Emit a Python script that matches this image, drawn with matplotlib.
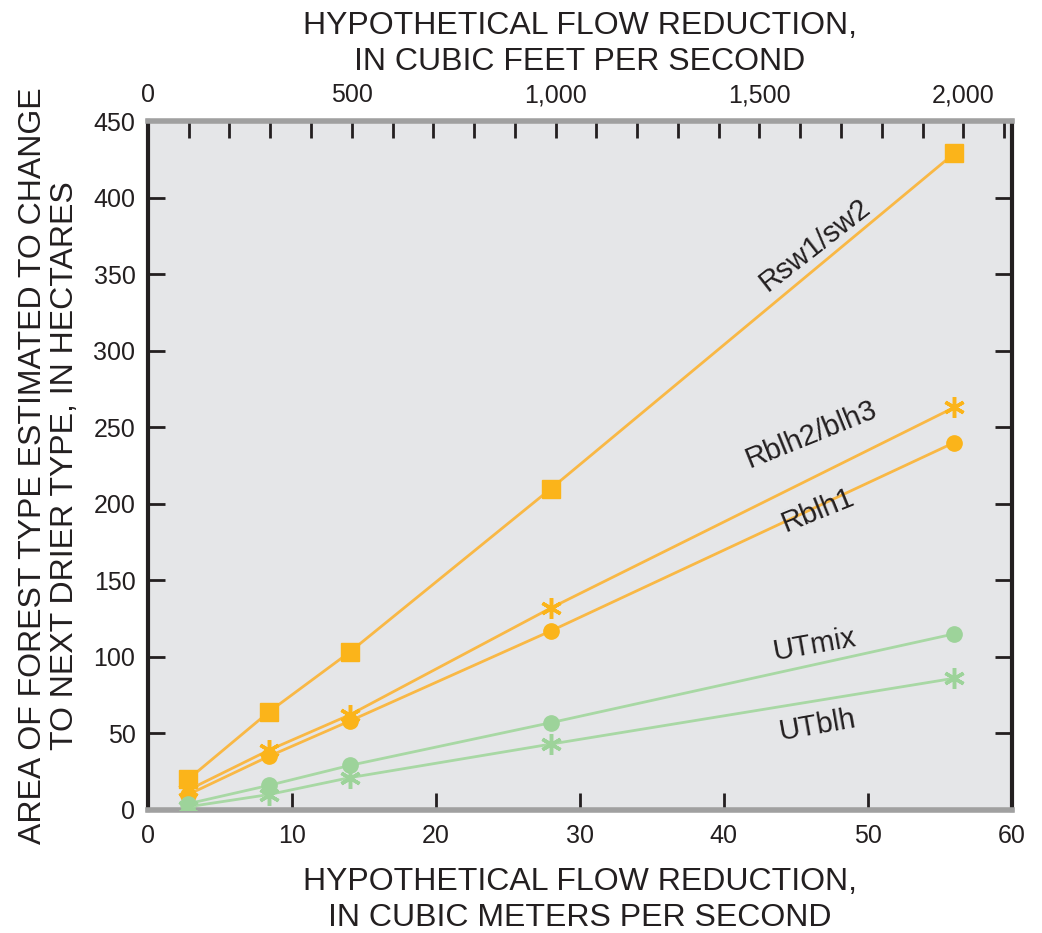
import numpy as np
import matplotlib.pyplot as plt

plt.rcParams['font.family'] = ['Liberation Sans', 'DejaVu Sans']

# flow reduction, cubic meters per second
flow_cms = [2.8, 8.4, 14, 28, 56]

rsw1_sw2 = [20, 64, 103, 210, 429]
rblh2_blh3 = [13, 39, 62, 132, 263]
rblh1 = [10, 35, 58, 117, 240]
ut_mix = [4, 16, 29, 57, 115]
ut_blh = [2, 10, 21, 43, 86]

cfs_ticks = [0, 500, 1000, 1500, 2000]
cfs_labels = ["0", "500", "1,000", "1,500", "2,000"]

ORANGE = "#FBB41A"
ORANGE_LINE = "#F9B845"
GREEN = "#9DD39A"
GREEN_LINE = "#A8D8A4"
CFS_TO_CMS = 0.0283168
TXT = "#231F20"

fig = plt.figure(figsize=(10.42, 9.33), dpi=100)
ax = fig.add_axes([0.142, 0.132, 0.829, 0.738])
ax.set_facecolor("#E5E6E8")

star = (6, 2, 0)
ax.plot(flow_cms, rsw1_sw2, color=ORANGE_LINE, lw=2, marker="s", ms=13,
        mfc=ORANGE, mec=ORANGE, zorder=3)
ax.plot(flow_cms, rblh2_blh3, color=ORANGE_LINE, lw=2, marker=star, ms=15,
        mew=2.5, mfc=ORANGE, mec=ORANGE, zorder=3)
ax.plot(flow_cms, rblh1, color=ORANGE_LINE, lw=2, marker="o", ms=11,
        mfc=ORANGE, mec=ORANGE, zorder=3)
ax.plot(flow_cms, ut_mix, color=GREEN_LINE, lw=2, marker="o", ms=11,
        mfc=GREEN, mec=GREEN, zorder=3)
ax.plot(flow_cms, ut_blh, color=GREEN_LINE, lw=2, marker=star, ms=15,
        mew=2.5, mfc=GREEN, mec=GREEN, zorder=3)

lab = dict(fontsize=21, ha="center", va="center", color=TXT)
ax.text(46.3, 369, "Rsw1/sw2", rotation=38, **lab)
ax.text(46.1, 245, "Rblh2/blh3", rotation=22, **lab)
ax.text(46.5, 196, "Rblh1", rotation=22, **lab)
ax.text(46.3, 108, "UTmix", rotation=10, **lab)
ax.text(46.5, 55, "UTblh", rotation=10, **lab)

ax.set_xlim(0, 60)
ax.set_ylim(0, 450)
ax.set_xticks(np.arange(0, 61, 10))
ax.set_yticks(np.arange(0, 451, 50))
ax.tick_params(axis="both", direction="in", length=12, width=2, labelsize=18,
               colors=TXT, pad=10)
ax.tick_params(axis="y", right=True, pad=9)

for side in ["left", "right"]:
    ax.spines[side].set_linewidth(3)
    ax.spines[side].set_color(TXT)
for side in ["top", "bottom"]:
    ax.spines[side].set_linewidth(4)
    ax.spines[side].set_color("#A0A0A0")

ax.set_xlabel("HYPOTHETICAL FLOW REDUCTION,\nIN CUBIC METERS PER SECOND",
              fontsize=23, linespacing=1.25, labelpad=14, color=TXT)
ax.set_ylabel("AREA OF FOREST TYPE ESTIMATED TO CHANGE\nTO NEXT DRIER TYPE, IN HECTARES",
              fontsize=23, linespacing=1.05, labelpad=10, color=TXT)

top = ax.secondary_xaxis("top", functions=(lambda x: x / CFS_TO_CMS,
                                           lambda c: c * CFS_TO_CMS))
top.set_xticks(cfs_ticks)
top.set_xticks(np.arange(0, 2101, 100), minor=True)
top.set_xticklabels(cfs_labels)
top.tick_params(which="both", direction="in", length=12, width=2, labelsize=18,
                colors=TXT, pad=10)
top.spines["top"].set_visible(False)
top.set_xlabel("HYPOTHETICAL FLOW REDUCTION,\nIN CUBIC FEET PER SECOND",
               fontsize=23, linespacing=1.25, labelpad=10, color=TXT)

fig.savefig("out.png", dpi=100)
